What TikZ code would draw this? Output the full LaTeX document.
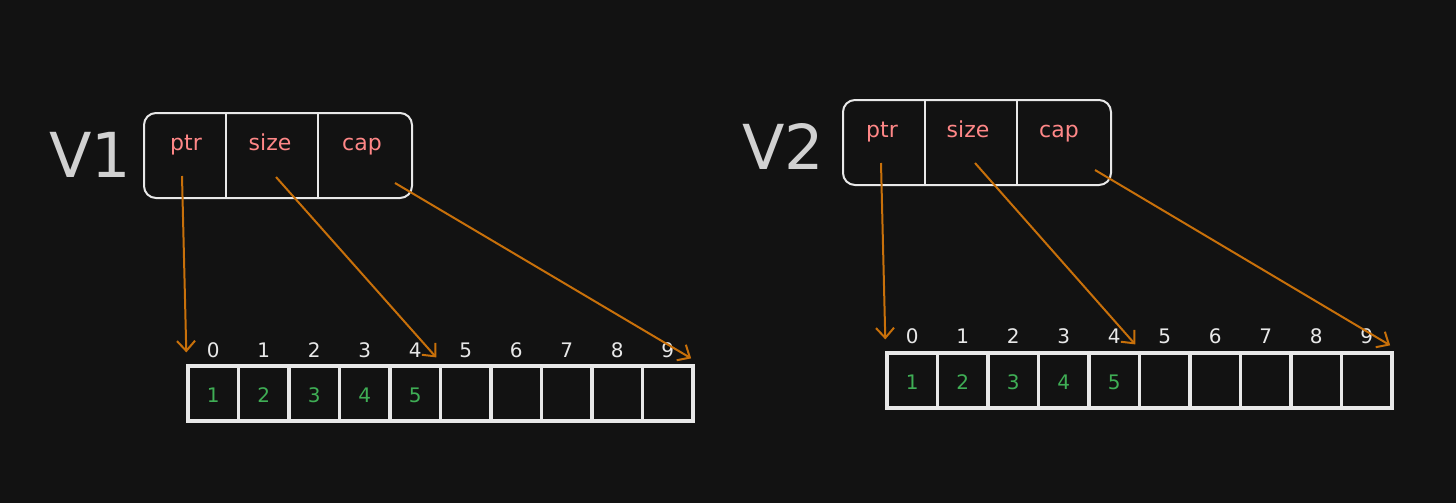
\documentclass[tikz,border=0pt]{standalone}
\usepackage{fontspec}
\setmainfont{DejaVu Sans}
\usetikzlibrary{arrows.meta, positioning}
\definecolor{bgdark}{HTML}{121212}
\definecolor{chalk}{HTML}{E8E8E8}
\definecolor{fieldpink}{HTML}{FF8787}
\definecolor{valgreen}{HTML}{3FAE55}
\definecolor{ptrorange}{HTML}{C8700A}
\tikzset{
    cellbox/.style={draw=chalk, line width=1.6pt, minimum width=25.25pt, minimum height=27.5pt, inner sep=0pt},
    cellval/.style={text=valgreen, font=\fontsize{10}{12}\selectfont, text height=1.6ex, text depth=0pt},
    idxlabel/.style={text=chalk, font=\fontsize{10}{12}\selectfont, text height=1.6ex, text depth=0pt},
    fieldlabel/.style={text=fieldpink, font=\fontsize{11}{13}\selectfont, text height=1.2ex, text depth=0.4ex},
    veclabel/.style={text=chalk!90!black, font=\fontsize{31}{36}\selectfont},
    ptrarrow/.style={draw=ptrorange, line width=1pt, -{Straight Barb[length=5pt, width=9pt]}, shorten >=2pt}
}
\begin{document}
\begin{tikzpicture}[x=0.5pt, y=-0.5pt]
    \fill[bgdark] (0, 0) rectangle (1456, 503);

    % first vector
    \node[veclabel] (v1) at (90, 155) {V1};
    \draw[chalk, line width=1pt, rounded corners=6pt] (144, 113) rectangle (412, 198);
    \draw[chalk, line width=1pt] (226, 113) -- (226, 198) (318, 113) -- (318, 198);
    \node[fieldlabel] (v1ptr) at (186, 146) {ptr};
    \node[fieldlabel] (v1size) at (270, 146) {size};
    \node[fieldlabel] (v1cap) at (362, 146) {cap};

    \foreach \i in {0,...,9} {
        \node[cellbox] (a\i) at ({188 + 50.5*(\i + 0.5)}, 393.5) {};
        \node[idxlabel] at ({188 + 50.5*(\i + 0.5)}, 349) {\i};
    }
    \foreach \i in {1,...,5} {
        \pgfmathtruncatemacro{\j}{\i - 1}
        \node[cellval] at (a\j) {\i};
    }

    \draw[ptrarrow] ([shift={(-4, 30)}]v1ptr.center) -- ([yshift=4pt]a0.north west);
    \draw[ptrarrow] ([shift={(6, 31)}]v1size.center) -- ([yshift=2pt]a5.north west);
    \draw[ptrarrow] ([shift={(33, 37)}]v1cap.center) -- ([yshift=2pt]a9.north east);

    % second vector
    \node[veclabel] (v2) at (783, 146) {V2};
    \draw[chalk, line width=1pt, rounded corners=6pt] (843, 100) rectangle (1111, 185);
    \draw[chalk, line width=1pt] (925, 100) -- (925, 185) (1017, 100) -- (1017, 185);
    \node[fieldlabel] (v2ptr) at (882, 133) {ptr};
    \node[fieldlabel] (v2size) at (968, 133) {size};
    \node[fieldlabel] (v2cap) at (1059, 133) {cap};

    \foreach \i in {0,...,9} {
        \node[cellbox] (b\i) at ({887 + 50.5*(\i + 0.5)}, 380.5) {};
        \node[idxlabel] at ({887 + 50.5*(\i + 0.5)}, 335) {\i};
    }
    \foreach \i in {1,...,5} {
        \pgfmathtruncatemacro{\j}{\i - 1}
        \node[cellval] at (b\j) {\i};
    }

    \draw[ptrarrow] ([shift={(-1, 30)}]v2ptr.center) -- ([yshift=4pt]b0.north west);
    \draw[ptrarrow] ([shift={(7, 30)}]v2size.center) -- ([yshift=2pt]b5.north west);
    \draw[ptrarrow] ([shift={(36, 37)}]v2cap.center) -- ([yshift=2pt]b9.north east);
\end{tikzpicture}
\end{document}
